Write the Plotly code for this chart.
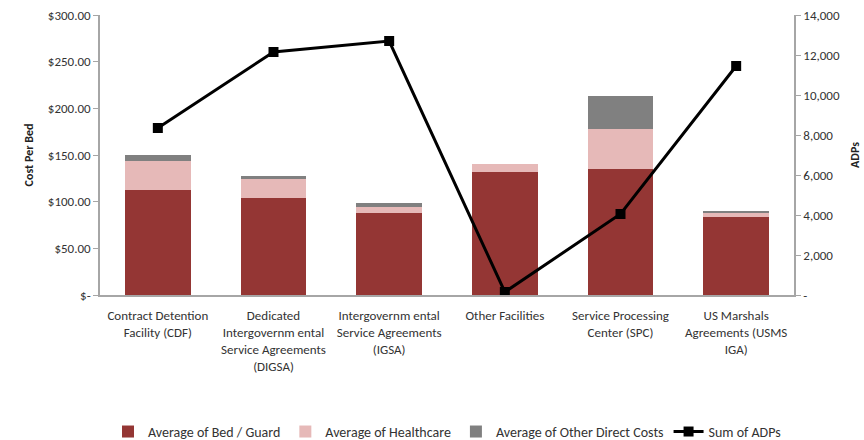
import plotly.graph_objects as go

categories = [
    "Contract Detention<br>Facility (CDF)",
    "Dedicated<br>Intergovernm ental<br>Service Agreements<br>(DIGSA)",
    "Intergovernm ental<br>Service Agreements<br>(IGSA)",
    "Other Facilities",
    "Service Processing<br>Center (SPC)",
    "US Marshals<br>Agreements (USMS<br>IGA)",
]
bed_guard = [112.5, 103.6, 87.5, 131.5, 135.0, 83.3]
healthcare = [31.0, 20.7, 7.0, 9.0, 43.0, 4.3]
other_direct = [6.5, 3.2, 4.0, 0.0, 35.5, 2.8]
sum_adps = [8350, 12150, 12700, 150, 4050, 11450]

left_ticks = [0, 50, 100, 150, 200, 250, 300]
left_labels = ["$-", "$50.00", "$100.00", "$150.00", "$200.00", "$250.00", "$300.00"]
right_ticks = [0, 2000, 4000, 6000, 8000, 10000, 12000, 14000]
right_labels = ["-", "2,000", "4,000", "6,000", "8,000", "10,000", "12,000", "14,000"]

FONT = "Carlito, 'Liberation Sans Narrow', 'Open Sans', sans-serif"
AXIS_GRAY = "#a6a6a6"

fig = go.Figure()
fig.add_trace(go.Bar(x=categories, y=bed_guard, name="Average of Bed / Guard",
                     marker=dict(color="#943634", line=dict(width=0))))
fig.add_trace(go.Bar(x=categories, y=healthcare, name="Average of Healthcare",
                     marker=dict(color="#e6b9b8", line=dict(width=0))))
fig.add_trace(go.Bar(x=categories, y=other_direct, name="Average of Other Direct Costs",
                     marker=dict(color="#808080", line=dict(width=0))))
fig.add_trace(go.Scatter(x=categories, y=sum_adps, name="Sum of ADPs", yaxis="y2",
                         mode="lines+markers",
                         line=dict(color="black", width=3),
                         marker=dict(symbol="square", size=10, color="black")))

fig.update_layout(
    barmode="stack",
    bargap=0.43,
    width=864, height=440,
    margin=dict(l=100, r=70, t=15, b=145, autoexpand=False),
    paper_bgcolor="white", plot_bgcolor="white",
    font=dict(family=FONT, size=13, color="#333333"),
    xaxis=dict(showline=True, linecolor=AXIS_GRAY, linewidth=1.5, ticks="",
               tickfont=dict(size=13), showgrid=False, ticklabelstandoff=8,
               automargin=False),
    yaxis=dict(range=[0, 300], tickvals=left_ticks, ticktext=left_labels,
               showline=True, linecolor=AXIS_GRAY, linewidth=1.5,
               ticks="outside", tickcolor=AXIS_GRAY, ticklen=5,
               showgrid=False, zeroline=False, automargin=False,
               title=dict(text="<b>Cost Per Bed</b>", font=dict(size=12, color="#222222"),
                          standoff=12)),
    yaxis2=dict(range=[0, 14000], tickvals=right_ticks, ticktext=right_labels,
                overlaying="y", side="right",
                showline=True, linecolor=AXIS_GRAY, linewidth=1.5,
                ticks="outside", tickcolor=AXIS_GRAY, ticklen=5,
                showgrid=False, zeroline=False, automargin=False,
                title=dict(text="<b>ADPs</b>", font=dict(size=12, color="#222222"),
                           standoff=12)),
    legend=dict(orientation="h", x=0.5, xanchor="center",
                y=-0.489, yanchor="middle",
                font=dict(size=14), traceorder="normal", itemwidth=30),
    showlegend=True,
)

fig.write_html("out.html")
